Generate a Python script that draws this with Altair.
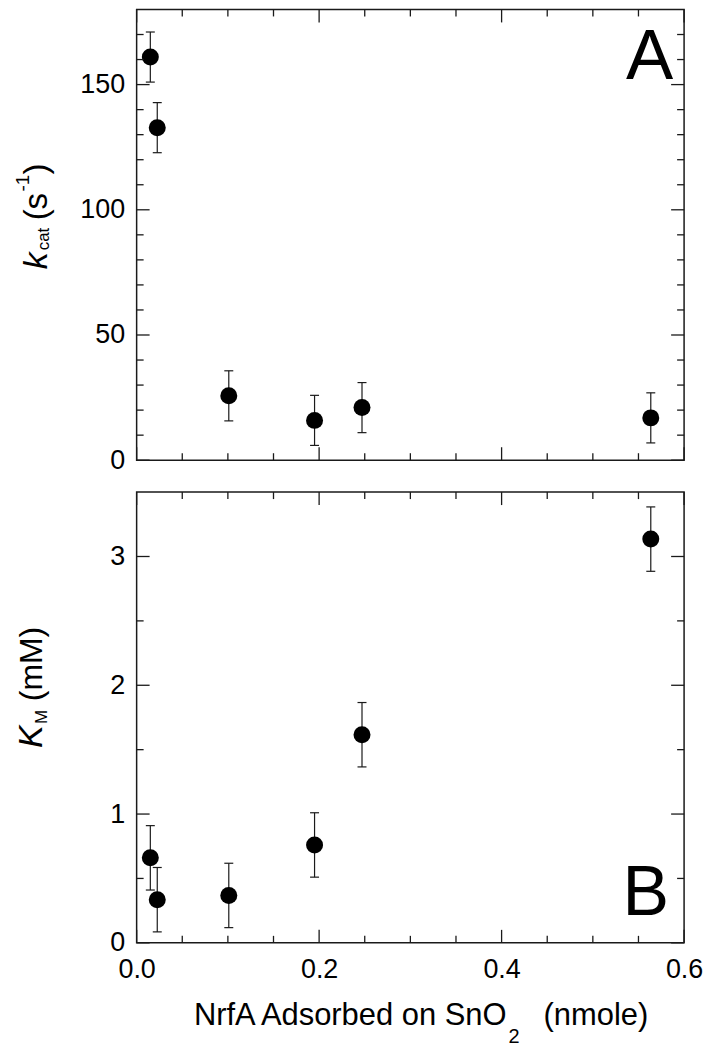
import altair as alt
import pandas as pd

# ---- data ----
x_vals = [0.015, 0.0226, 0.101, 0.195, 0.247, 0.5635]
kcat = [161.0, 132.8, 25.7, 15.9, 21.0, 16.9]
kcat_err = [10, 10, 10, 10, 10, 10]
km = [0.66, 0.335, 0.368, 0.76, 1.616, 3.135]
km_err = [0.25, 0.25, 0.25, 0.25, 0.25, 0.25]

x_major = [0.0, 0.2, 0.4, 0.6]
x_minor = [0.05, 0.1, 0.15, 0.25, 0.3, 0.35, 0.45, 0.5, 0.55]
kcat_major = [0, 50, 100, 150]
kcat_minor = [10, 20, 30, 40, 60, 70, 80, 90, 110, 120, 130, 140, 160, 170]
km_major = [0, 1, 2, 3]
km_minor = [0.5, 1.5, 2.5]

x_title_main = "NrfA Adsorbed on SnO"
x_title_sub = "2"
x_title_tail = "(nmole)"

FONT = "Liberation Sans"
W, H = 549, 452
INK = "#1a1a1a"
MAJ, MIN = 13, 7

xs = alt.Scale(domain=[0, 0.6], nice=False, zero=False)


def txt(s, x, y, size, italic=False, angle=0, align="left", baseline="alphabetic"):
    kw = dict(font=FONT, fontSize=size, color="black", align=align, baseline=baseline)
    if italic:
        kw["fontStyle"] = "italic"
    if angle:
        kw["angle"] = angle
    return alt.Chart(pd.DataFrame({"t": [s]})).mark_text(**kw).encode(
        text="t:N", x=alt.value(x), y=alt.value(y)
    )


def panel(vals, errs, ydomain, ymaj, ymin, xaxis, extra):
    ys = alt.Scale(domain=ydomain, nice=False, zero=False)
    yaxis = alt.Axis(values=ymaj, format="d", title=None, labelPadding=12)
    df = pd.DataFrame({"x": x_vals, "v": vals, "e": errs})
    df["lo"] = df["v"] - df["e"]
    df["hi"] = df["v"] + df["e"]

    X = alt.X("x:Q", scale=xs, axis=xaxis)
    layers = []
    # error bars
    layers.append(
        alt.Chart(df).mark_rule(color=INK, strokeWidth=1.2).encode(
            x=X, y=alt.Y("lo:Q", scale=ys, axis=yaxis), y2="hi:Q"
        )
    )
    for f in ["lo", "hi"]:
        layers.append(
            alt.Chart(df).mark_rule(color=INK, strokeWidth=1.2, xOffset=-4.5, x2Offset=4.5).encode(
                x=X, x2="x:Q", y=alt.Y(f + ":Q", scale=ys, axis=yaxis)
            )
        )
    # points
    layers.append(
        alt.Chart(df).mark_circle(size=290, color="black", opacity=1).encode(
            x=X, y=alt.Y("v:Q", scale=ys, axis=yaxis)
        )
    )
    # x ticks (bottom & top)
    for vals_t, ln in [(x_major, MAJ), (x_minor, MIN)]:
        tdf = pd.DataFrame({"x": vals_t})
        layers.append(
            alt.Chart(tdf).mark_rule(color=INK, strokeWidth=1.3).encode(
                x=X, y=alt.value(H), y2=alt.value(H - ln)
            )
        )
        layers.append(
            alt.Chart(tdf).mark_rule(color=INK, strokeWidth=1.3).encode(
                x=X, y=alt.value(0), y2=alt.value(ln)
            )
        )
    # y ticks (left & right)
    for vals_t, ln in [(ymaj, MAJ), (ymin, MIN)]:
        tdf = pd.DataFrame({"y": vals_t})
        Y = alt.Y("y:Q", scale=ys, axis=yaxis)
        layers.append(
            alt.Chart(tdf).mark_rule(color=INK, strokeWidth=1.3).encode(
                y=Y, x=alt.value(0), x2=alt.value(ln)
            )
        )
        layers.append(
            alt.Chart(tdf).mark_rule(color=INK, strokeWidth=1.3).encode(
                y=Y, x=alt.value(W), x2=alt.value(W - ln)
            )
        )
    layers += extra
    return alt.layer(*layers).properties(width=W, height=H)


top_extra = [
    txt("k", -90, 260.5, 34, italic=True, angle=270),
    txt("cat", -88, 241.5, 17, angle=270),
    txt("(s", -90, 211.5, 33, angle=270),
    txt("-1", -108, 182.5, 19, angle=270),
    txt(")", -90, 165.5, 33, angle=270),
    txt("A", 538, 69.5, 71, align="right"),
]
bottom_extra = [
    txt("K", -95, 256.7, 34, italic=True, angle=270),
    txt("M", -90, 232.5, 17, angle=270),
    txt("(mM)", -95, 209.7, 32, angle=270),
    txt("B", 534, 423.7, 70, align="right"),
    txt(x_title_main, 371, 534.7, 31, align="right"),
    txt(x_title_sub, 373, 552.5, 20),
    txt(x_title_tail, 408, 534.7, 31),
]

top = panel(kcat, kcat_err, [0, 180], kcat_major, kcat_minor, None, top_extra)
bottom = panel(
    km, km_err, [0, 3.5], km_major, km_minor,
    alt.Axis(values=x_major, format=".1f", title=None, labelPadding=14, labelFlush=False),
    bottom_extra,
)

chart = (
    alt.vconcat(top, bottom, spacing=32, bounds="flush")
    .properties(padding={"left": 5, "top": -2, "right": 10, "bottom": 0})
    .configure_view(stroke=INK, strokeWidth=1.5)
    .configure_axis(
        labelFont=FONT, labelFontSize=27, labelColor="black",
        domain=False, ticks=False, tickSize=0, grid=False,
    )
)

chart.save("out.html", embed_options={"renderer": "svg", "actions": False})
